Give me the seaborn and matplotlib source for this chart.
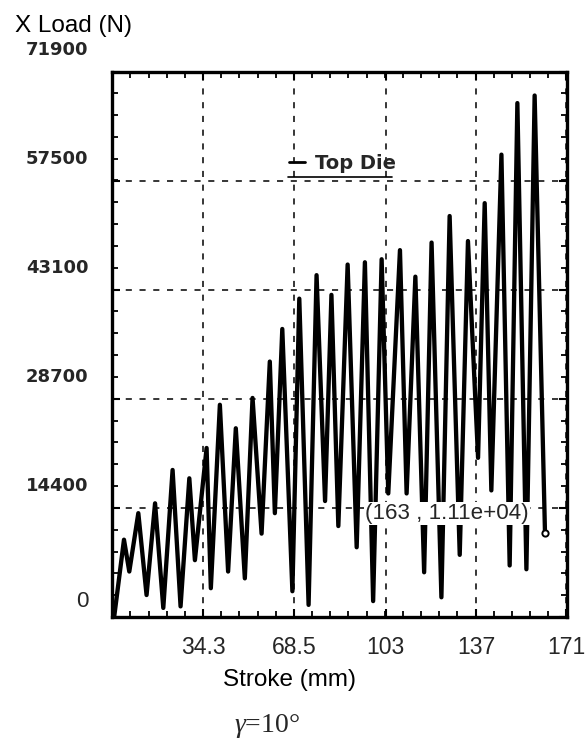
import numpy as np
import matplotlib
matplotlib.use("Agg")
import matplotlib.pyplot as plt
import matplotlib.transforms as mtransforms
from matplotlib import font_manager
from matplotlib.ticker import AutoMinorLocator
import seaborn as sns

# data (stroke in mm, load in N), peaks and troughs
stroke = [0.8, 4.5, 6.5, 9.9, 13.0, 16.2, 19.3, 22.8, 25.8, 29.1, 31.2, 35.6, 37.2,
          40.6, 43.7, 46.6, 50.0, 52.9, 56.3, 59.4, 61.3, 64.1, 67.9, 70.5, 74.0,
          77.0, 80.2, 82.6, 85.2, 88.7, 92.1, 95.2, 98.3, 101.5, 104.0, 108.4, 110.9,
          114.2, 117.5, 120.3, 124.0, 127.1, 130.9, 134.0, 137.8, 140.3, 142.8, 146.6,
          149.7, 152.6, 156.0, 159.1, 163.0]
load = [0, 10200, 6000, 13700, 2900, 15000, 1200, 19400, 1400, 18300, 7500, 22300, 3800,
        28000, 6000, 24900, 5100, 28900, 11000, 33700, 13700, 38000, 3400, 42000, 1600,
        45100, 15300, 42500, 12000, 46500, 9200, 46800, 2100, 47200, 16300, 48400, 16300,
        44900, 5900, 49400, 2600, 52900, 8200, 49600, 21000, 54600, 16700, 61000,
        6800, 67800, 6300, 68800, 11100]

x_ticks = [34.3, 68.5, 103, 137, 171]
y_ticks = [0, 14400, 28700, 43100, 57500, 71900]
y_labels = ["0", "14400", "28700", "43100", "57500", "71900"]
end_point = (163, 11100)
end_label = "(163 , 1.11e+04)"

sns.set_theme(style="ticks")
names = {f.name for f in font_manager.fontManager.ttflist}
if "Liberation Sans Narrow" in names:
    narrow, nscale = "Liberation Sans Narrow", 1.0
else:
    narrow, nscale = "Liberation Sans", 0.85
plt.rcParams["font.family"] = ["DejaVu Sans"]
plt.rcParams["mathtext.fontset"] = "custom"
plt.rcParams["mathtext.it"] = "Liberation Serif:italic"
plt.rcParams["mathtext.rm"] = "Liberation Serif"

fig = plt.figure(figsize=(5.85, 7.4), dpi=100)
ax = fig.add_axes([0.1915, 0.1662, 0.7778, 0.7365])

sns.lineplot(x=stroke, y=load, ax=ax, color="black", lw=3.1, sort=False,
             estimator=None, label="Top Die", solid_joinstyle="round")
ax.plot([end_point[0]], [end_point[1]], "o", ms=4.5, mfc="white", mec="black", mew=1.4)

ax.set_xlim(0, 171.3)
ax.set_ylim(0, 71900)
ax.set_xticks(x_ticks, labels=[str(v) for v in x_ticks])
ax.set_yticks(y_ticks, labels=y_labels)
ax.xaxis.set_minor_locator(AutoMinorLocator(5))
ax.yaxis.set_minor_locator(AutoMinorLocator(5))
ax.grid(True, which="major", color="black", linestyle=(0, (4, 5)), lw=1.1)

for s in ax.spines.values():
    s.set_linewidth(2.4)
    s.set_color("black")
ax.tick_params(which="both", direction="in", top=True, right=True, color="black")
ax.tick_params(which="major", length=6, width=1.5)
ax.tick_params(which="minor", length=4, width=1.3)
ax.tick_params(axis="x", pad=14)
ax.tick_params(axis="y", pad=17)

for lab in ax.get_xticklabels():
    lab.set_fontfamily(narrow)
    lab.set_fontsize(19.5 * nscale)
for i, lab in enumerate(ax.get_yticklabels()):
    if i == 0:
        lab.set_fontfamily(narrow)
        lab.set_fontsize(19 * nscale)
        dy = 18
    else:
        lab.set_fontfamily("DejaVu Sans")
        lab.set_fontweight("bold")
        lab.set_fontsize(13)
        dy = 24
    off = mtransforms.ScaledTranslation(0, dy / 100, fig.dpi_scale_trans)
    lab.set_transform(lab.get_transform() + off)

ax.set_xlabel("Stroke (mm)", fontfamily=narrow, fontsize=20.5 * nscale, color="black")
ax.xaxis.label.set_va("center")
ax.xaxis.set_label_coords(0.389, -0.1156)
ax.set_ylabel("X Load (N)", fontfamily=narrow, fontsize=20.5 * nscale, color="black",
              rotation=0, ha="center", va="center")
ax.yaxis.set_label_coords(-0.0846, 1.0844)

leg = ax.legend(loc="center left", bbox_to_anchor=(0.39, 0.833), frameon=False,
                handlelength=0.8, handletextpad=0.5, borderpad=0, borderaxespad=0,
                prop={"family": "DejaVu Sans", "weight": "bold", "size": 14})
leg.get_lines()[0].set_linewidth(2)
ax.plot([0.387, 0.616], [0.807, 0.807], transform=ax.transAxes, color="black", lw=1.2)

ax.annotate(end_label, xy=end_point, xytext=(-11.5, 13.7), textcoords="offset points",
            ha="right", va="center", fontsize=19 * nscale, fontfamily=narrow,
            bbox=dict(boxstyle="square,pad=0.05", fc="white", ec="none"))

fig.text(0.456, 0.019, r"$\gamma$=10°", fontfamily="Liberation Serif", fontsize=20,
         ha="center", va="center")

fig.savefig("out.png", dpi=100)
